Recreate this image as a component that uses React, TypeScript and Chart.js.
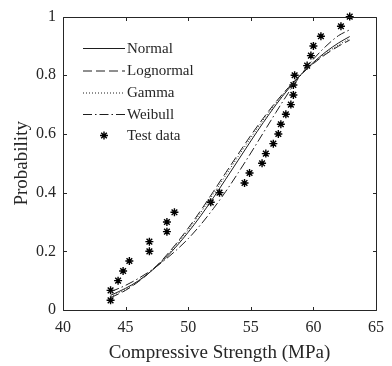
import React, { useEffect, useRef } from "react";
import { Chart, registerables } from "chart.js";

Chart.register(...registerables);

const xTickValues = [40, 45, 50, 55, 60, 65];
const yTickValues = [0, 0.2, 0.4, 0.6, 0.8, 1];

const curveX = [43.8, 45, 46, 47, 48, 49, 50, 51, 52, 53, 54, 55, 56, 57, 58, 59, 60, 61, 62, 62.9];
const normalY = [0.05, 0.074, 0.099, 0.131, 0.169, 0.214, 0.265, 0.321, 0.382, 0.446, 0.511, 0.576, 0.639, 0.699, 0.753, 0.802, 0.844, 0.88, 0.91, 0.932];
const lognormalY = [0.042, 0.067, 0.096, 0.131, 0.174, 0.224, 0.279, 0.339, 0.403, 0.468, 0.532, 0.595, 0.654, 0.709, 0.758, 0.802, 0.84, 0.872, 0.899, 0.92];
const gammaY = [0.045, 0.07, 0.097, 0.131, 0.172, 0.22, 0.273, 0.332, 0.395, 0.459, 0.524, 0.587, 0.648, 0.705, 0.756, 0.802, 0.842, 0.875, 0.903, 0.925];
const weibullY = [0.062, 0.084, 0.107, 0.134, 0.166, 0.202, 0.243, 0.291, 0.345, 0.404, 0.468, 0.535, 0.604, 0.673, 0.74, 0.801, 0.855, 0.899, 0.935, 0.955];

const testX = [43.8, 43.8, 44.4, 44.8, 45.3, 46.9, 46.9, 48.3, 48.3, 48.9, 51.8, 52.5, 54.5, 54.9, 55.9, 56.2, 56.8, 57.2, 57.4, 57.8, 58.2, 58.4, 58.4, 58.5, 59.5, 59.8, 60.0, 60.6, 62.2, 62.9];
const testY = [0.033, 0.067, 0.1, 0.133, 0.167, 0.2, 0.233, 0.267, 0.3, 0.333, 0.367, 0.4, 0.433, 0.467, 0.5, 0.533, 0.567, 0.6, 0.633, 0.667, 0.7, 0.733, 0.767, 0.8, 0.833, 0.867, 0.9, 0.933, 0.967, 1.0];

const seriesNames = ["Normal", "Lognormal", "Gamma", "Weibull", "Test data"];
const seriesDashes = [[], [9, 4], [1, 2], [9, 3, 1.5, 3], []];

const FONT = "'Liberation Serif', 'Times New Roman', serif";
const AXIS = "#262626";
const LINE = "#1e1e1e";

const framePlugin = {
  id: "frame",
  afterDraw(chart: any) {
    const { ctx, chartArea } = chart;
    const { left, right, top, bottom } = chartArea;
    const xs = chart.scales.x;
    const ys = chart.scales.y;
    ctx.save();
    ctx.strokeStyle = AXIS;
    ctx.lineWidth = 1;
    const L = Math.round(left) + 0.5;
    const R = Math.round(right) + 0.5;
    const T = Math.round(top) + 0.5;
    const B = Math.round(bottom) + 0.5;
    ctx.beginPath();
    ctx.rect(L, T, R - L, B - T);
    const tl = 3.5;
    xTickValues.forEach((v) => {
      const px = Math.round(xs.getPixelForValue(v)) + 0.5;
      ctx.moveTo(px, B);
      ctx.lineTo(px, B - tl);
      ctx.moveTo(px, T);
      ctx.lineTo(px, T + tl);
    });
    yTickValues.forEach((v) => {
      const py = Math.round(ys.getPixelForValue(v)) + 0.5;
      ctx.moveTo(L, py);
      ctx.lineTo(L + tl, py);
      ctx.moveTo(R, py);
      ctx.lineTo(R - tl, py);
    });
    ctx.stroke();
    ctx.restore();
  },
};

const legendPlugin = {
  id: "innerLegend",
  afterDraw(chart: any) {
    const { ctx } = chart;
    ctx.save();
    const x0 = 83;
    const x1 = 125;
    const rows = [48, 70.5, 92.5, 114, 135.5];
    ctx.font = `15px ${FONT}`;
    ctx.textBaseline = "middle";
    ctx.textAlign = "left";
    seriesNames.forEach((name, i) => {
      const y = rows[i];
      ctx.strokeStyle = LINE;
      ctx.lineWidth = 1;
      if (i < 4) {
        ctx.setLineDash(seriesDashes[i]);
        ctx.beginPath();
        ctx.moveTo(x0, y + 0.5);
        ctx.lineTo(x1, y + 0.5);
        ctx.stroke();
        ctx.setLineDash([]);
      } else {
        const cx = 104;
        const r = 4;
        ctx.lineWidth = 1.4;
        ctx.strokeStyle = "#000";
        ctx.beginPath();
        for (let k = 0; k < 4; k++) {
          const a = (k * Math.PI) / 4;
          ctx.moveTo(cx - Math.cos(a) * r, y - Math.sin(a) * r);
          ctx.lineTo(cx + Math.cos(a) * r, y + Math.sin(a) * r);
        }
        ctx.stroke();
      }
      ctx.fillStyle = AXIS;
      ctx.fillText(name, x1 + 2, y + 1);
    });
    ctx.restore();
  },
};

function toPoints(xs: number[], ys: number[]) {
  return xs.map((x, i) => ({ x, y: ys[i] }));
}

export default function App() {
  const canvasRef = useRef<HTMLCanvasElement | null>(null);

  useEffect(() => {
    if (!canvasRef.current) return;
    const curveDs = (label: string, ys: number[], dash: number[]) => ({
      type: "line" as const,
      label,
      data: toPoints(curveX, ys),
      borderColor: LINE,
      borderWidth: 1,
      borderDash: dash,
      pointRadius: 0,
      fill: false,
      cubicInterpolationMode: "monotone" as const,
    });
    const chart = new Chart(canvasRef.current, {
      type: "line",
      data: {
        datasets: [
          curveDs(seriesNames[0], normalY, seriesDashes[0]),
          curveDs(seriesNames[1], lognormalY, seriesDashes[1]),
          curveDs(seriesNames[2], gammaY, seriesDashes[2]),
          curveDs(seriesNames[3], weibullY, seriesDashes[3]),
          {
            type: "scatter" as const,
            label: seriesNames[4],
            data: toPoints(testX, testY),
            showLine: false,
            pointStyle: "star",
            pointRadius: 4,
            pointBorderWidth: 1.4,
            borderColor: "#000",
            backgroundColor: "#000",
            clip: false,
          } as any,
        ],
      },
      options: {
        animation: false,
        responsive: false,
        devicePixelRatio: 1,
        layout: { padding: { top: 15, right: 10, left: 0, bottom: 0 } },
        plugins: {
          legend: { display: false },
          tooltip: { enabled: false },
        },
        scales: {
          x: {
            type: "linear",
            min: 40,
            max: 65,
            afterBuildTicks: (s: any) => {
              s.ticks = xTickValues.map((v) => ({ value: v }));
            },
            afterFit: (s: any) => {
              s.height = 56;
            },
            grid: { display: false, drawTicks: false },
            border: { display: false },
            ticks: {
              font: { family: FONT, size: 16 },
              color: AXIS,
              padding: 8,
              maxRotation: 0,
              autoSkip: false,
            },
            title: {
              display: true,
              text: "Compressive Strength (MPa)",
              font: { family: FONT, size: 19 },
              color: AXIS,
              padding: { top: 0, bottom: 1.5 },
            },
          },
          y: {
            type: "linear",
            min: 0,
            max: 1,
            afterBuildTicks: (s: any) => {
              s.ticks = yTickValues.map((v) => ({ value: v }));
            },
            afterFit: (s: any) => {
              s.width = 63;
            },
            grid: { display: false, drawTicks: false },
            border: { display: false },
            ticks: {
              font: { family: FONT, size: 16 },
              color: AXIS,
              padding: 7,
              autoSkip: false,
              callback: (v: any) => String(Number(v)),
            },
            title: {
              display: true,
              text: "Probability",
              font: { family: FONT, size: 19 },
              color: AXIS,
              padding: { top: 11, bottom: 0 },
            },
          },
        },
      },
      plugins: [framePlugin, legendPlugin],
    });
    return () => chart.destroy();
  }, []);

  return (
    <div style={{ position: "fixed", left: 0, top: 0, width: 392, height: 366, background: "#fff" }}>
      <canvas ref={canvasRef} width={392} height={366} style={{ display: "block" }} />
    </div>
  );
}
